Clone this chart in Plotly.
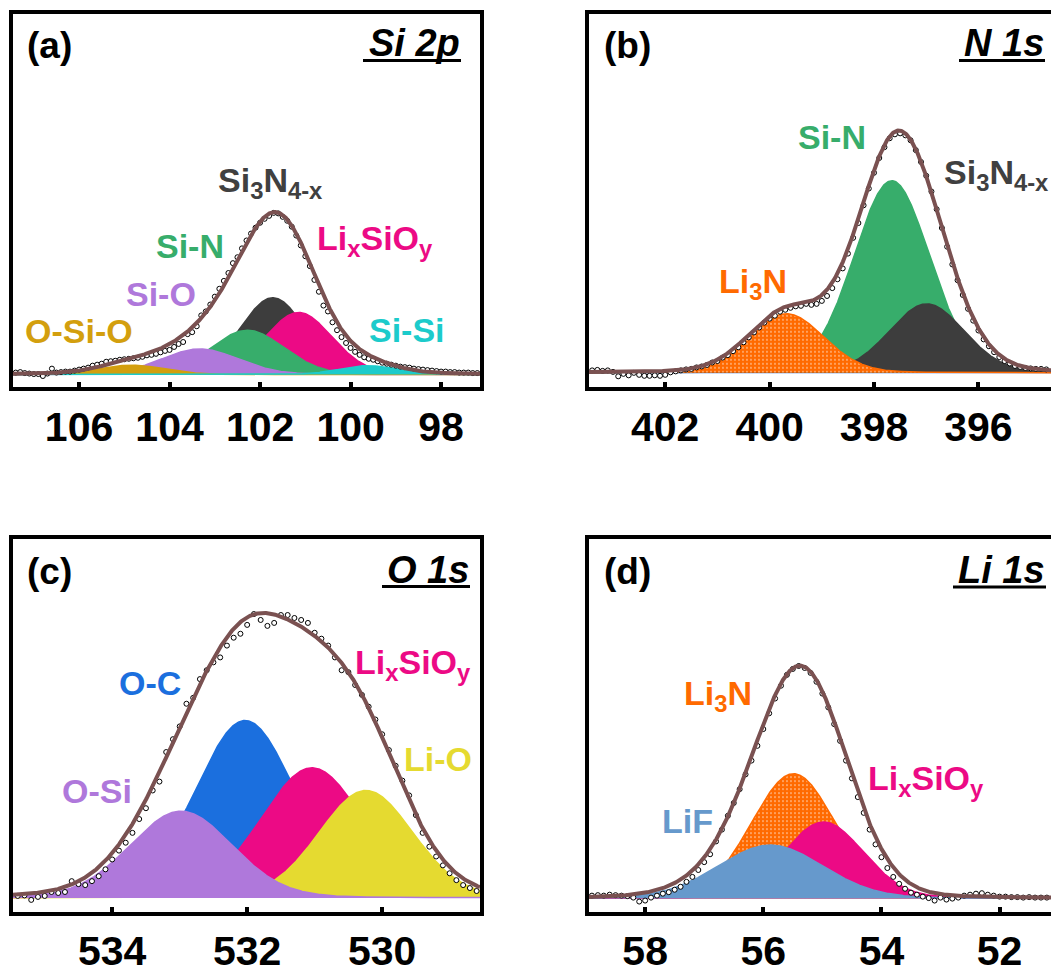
import numpy as np
import plotly.graph_objects as go

W, H = 1051, 974
FONT = "Liberation Sans, Arial, Helvetica, sans-serif"

# ---------------------------------------------------------------- colours
C_ENV = "#7A5151"
C_SI3N4 = "#3D3D3D"
C_LISIO = "#EC0A85"
C_SIN = "#37AD6B"
C_SIO = "#AF78DB"
C_OSIO = "#D39F0E"
C_SISI = "#1CCBCB"
C_LI3N = "#FF6A00"
C_OC = "#1B6FDE"
C_LIO = "#E5DA30"
C_LIF = "#6699CC"
C_BG = "#3B73D9"

# ================================================================ Si 2p
SI2P_SCAN = (107.4, 97.2)
SI2P_COUNTS = [
    2, 2.5, 1.5, 1, 0.5, 0.5, -1.5, 1, 6, 2,
    2.5, 3, 3, 4, 5, 6, 7, 9, 10, 11,
    13, 13.5, 14, 15, 15.5, 16, 16.5, 17, 18, 19.5,
    20, 21, 22.5, 24, 25, 28, 31, 33, 41, 43,
    49, 60, 64, 71, 79, 87, 95, 103, 113, 119,
    128, 136, 143, 149, 154, 158, 161, 164, 163.5, 160,
    156, 150, 141, 131, 120, 110, 96, 84, 70, 64,
    53, 45, 38, 32, 27, 23, 20, 17.5, 16, 15,
    13.5, 12, 11, 10, 9, 8, 7.5, 7, 6, 5.5,
    5, 4.5, 4, 3.5, 3, 3, 2.5, 2.5, 2, 2,
    2, 1.5, 1.5,
]
SI2P_NAMES = ["Si3N4-x", "LixSiOy", "Si-N", "Si-O", "O-Si-O", "Si-Si"]
SI2P_CENTER = [101.72, 101.15, 102.28, 103.33, 104.85, 99.60]
SI2P_HEIGHT = [78, 63, 45, 26, 9.5, 9]
SI2P_FWHM = [1.70, 1.75, 1.90, 2.00, 1.70, 1.50]
SI2P_BACKGROUND = [1.0, 1.0]

# ================================================================ N 1s
N1S_SCAN = (403.4, 394.7)
N1S_COUNTS = [
    2.5, 3, 2, 2.5, 1, -3.5, -1, -2.5, 0, -2,
    -3, -3, -2.5, -3, -2, 0.5, 1.5, 2.5, 3.5, 4,
    5.5, 6.5, 8, 10.5, 12, 15.5, 18, 22, 26, 31,
    36, 41, 46, 51, 55, 58, 62, 64, 66, 67.5,
    68, 70, 69, 70, 73, 78, 86, 95, 106, 121,
    137, 152, 170, 187, 203, 218, 229, 238, 242, 243,
    241, 236, 226, 214, 200, 184, 166, 147, 128, 110,
    94, 79, 65, 53, 43, 34, 27, 21, 16, 12,
    9.5, 7, 6, 5, 4.5, 4, 4, 3.5,
]
N1S_NAMES = ["Si-N", "Si3N4-x", "Li3N"]
N1S_CENTER = [397.66, 396.99, 399.68]
N1S_HEIGHT = [195, 70, 60]
N1S_FWHM = [1.72, 1.70, 1.70]
N1S_BACKGROUND = [1.0, 1.0]

# ================================================================ O 1s
O1S_SCAN = (535.4, 528.6)
O1S_COUNTS = [
    2, 2.5, -2, 1, 2, 6, 5, 6, 17, 14,
    13, 17, 22, 29, 39, 48, 56, 66, 80, 91,
    109, 118, 148, 161, 174, 197, 203, 222, 231, 239,
    244, 256, 264, 268, 277, 288, 282, 276, 279, 287,
    287, 284, 282, 279, 269, 263, 256, 244, 231, 229,
    216, 206, 194, 181, 166, 150, 134, 119, 104, 84,
    66, 52, 42, 33, 25, 18, 13, 10, 7,
]
O1S_NAMES = ["O-C", "LixSiOy", "Li-O", "O-Si"]
O1S_CENTER = [532.03, 531.04, 530.24, 532.98]
O1S_HEIGHT = [180, 132, 109, 88]
O1S_FWHM = [1.75, 1.80, 1.65, 1.79]

# ================================================================ Li 1s
LI1S_SCAN = (58.9, 51.2)
LI1S_COUNTS = [
    3, 3.5, 3, 4, 3.5, 3, 2.5, 1, -3, -2,
    1, 3, 5, 6.5, 9, 12, 17, 22, 29, 37,
    45, 58, 70, 84, 97, 111, 126, 140, 155, 172,
    188, 203, 216, 227, 233, 236, 234, 229, 220, 208,
    194, 177, 160, 140, 122, 103, 87, 70, 55, 42,
    31, 22, 15, 10, 6, 4, 2, 0.5, -2, 1,
    -1, 0, 1, 3, 4, 5, 5.5, 4, 3, 2,
    2, 1.5, 1.5, 1, 1.5, 1, 1, 1,
]
LI1S_NAMES = ["Li3N", "LixSiOy", "LiF"]
LI1S_CENTER = [55.49, 54.98, 55.88]
LI1S_HEIGHT = [126.7, 77.7, 54.3]
LI1S_FWHM = [1.68, 1.60, 2.10]

# tick labels (binding energy, eV)
SI2P_TICKS = [106, 104, 102, 100, 98]
N1S_TICKS = [402, 400, 398, 396]
O1S_TICKS = [534, 532, 530]
LI1S_TICKS = [58, 56, 54, 52]


def pseudo_voigt(e, c, h, fwhm, mix=0.1):
    """Gaussian-Lorentzian (GL) line shape used for the peak fits."""
    x = (e - c) / fwhm
    return h * ((1 - mix) * np.exp(-4 * np.log(2) * x ** 2) + mix / (1 + 4 * x ** 2))


# ---------------------------------------------------------------- panel geometry
# x domains / y domains in paper units, axis windows in data units
PANELS = {
    "a": dict(xd=[13 / W, 480 / W], yd=[1 - 393 / H, 1 - 14 / H],
              xr=[107.46, 97.14], yr=[-13, 366], right=True),
    "b": dict(xd=[589 / W, 1.0], yd=[1 - 393 / H, 1 - 14 / H],
              xr=[403.46, 394.61], yr=[-14.7, 364.3], right=False),
    "c": dict(xd=[13 / W, 480 / W], yd=[1 - 925 / H, 1 - 547 / H],
              xr=[535.47, 528.55], yr=[-14, 364], right=True),
    "d": dict(xd=[589 / W, 1.0], yd=[1 - 925 / H, 1 - 547 / H],
              xr=[58.95, 51.13], yr=[-13.3, 364.7], right=False),
}
AXIS_ID = {"a": "", "b": "2", "c": "3", "d": "4"}

SPECTRA = {
    "a": dict(scan=SI2P_SCAN, counts=SI2P_COUNTS, names=SI2P_NAMES, center=SI2P_CENTER,
              height=SI2P_HEIGHT, fwhm=SI2P_FWHM, ticks=SI2P_TICKS, bg=SI2P_BACKGROUND,
              # drawing order: back to front
              order=["Si3N4-x", "LixSiOy", "Si-N", "Si-O", "O-Si-O", "Si-Si"],
              colors={"Si3N4-x": C_SI3N4, "LixSiOy": C_LISIO, "Si-N": C_SIN,
                      "Si-O": C_SIO, "O-Si-O": C_OSIO, "Si-Si": C_SISI}),
    "b": dict(scan=N1S_SCAN, counts=N1S_COUNTS, names=N1S_NAMES, center=N1S_CENTER,
              height=N1S_HEIGHT, fwhm=N1S_FWHM, ticks=N1S_TICKS, bg=N1S_BACKGROUND,
              order=["Si-N", "Si3N4-x", "Li3N"],
              colors={"Si-N": C_SIN, "Si3N4-x": C_SI3N4, "Li3N": C_LI3N}),
    "c": dict(scan=O1S_SCAN, counts=O1S_COUNTS, names=O1S_NAMES, center=O1S_CENTER,
              height=O1S_HEIGHT, fwhm=O1S_FWHM, ticks=O1S_TICKS, bg=None,
              order=["O-C", "LixSiOy", "Li-O", "O-Si"],
              colors={"O-C": C_OC, "LixSiOy": C_LISIO, "Li-O": C_LIO, "O-Si": C_SIO}),
    "d": dict(scan=LI1S_SCAN, counts=LI1S_COUNTS, names=LI1S_NAMES, center=LI1S_CENTER,
              height=LI1S_HEIGHT, fwhm=LI1S_FWHM, ticks=LI1S_TICKS, bg=None,
              order=["Li3N", "LixSiOy", "LiF"],
              colors={"Li3N": C_LI3N, "LixSiOy": C_LISIO, "LiF": C_LIF}),
}

fig = go.Figure()

for key, sp in SPECTRA.items():
    ax = AXIS_ID[key]
    xa, ya = "x" + ax, "y" + ax
    lo, hi = PANELS[key]["xr"]
    e_fine = np.linspace(lo, hi, 900)
    e_scan = np.linspace(sp["scan"][0], sp["scan"][1], len(sp["counts"]))

    if sp["bg"] is not None:
        fig.add_trace(go.Scatter(x=[lo, hi], y=sp["bg"], mode="lines",
                                 line=dict(color=C_BG, width=2.5),
                                 xaxis=xa, yaxis=ya, hoverinfo="skip"))

    comps = {}
    for n, c, h, f in zip(sp["names"], sp["center"], sp["height"], sp["fwhm"]):
        comps[n] = pseudo_voigt(e_fine, c, h, f)

    for n in sp["order"]:
        col = sp["colors"][n]
        kw = dict(fill="tozeroy", fillcolor=col)
        if n == "Li3N":
            kw["fillpattern"] = dict(shape=".", bgcolor=col, fgcolor="white",
                                     size=4, solidity=0.18)
        fig.add_trace(go.Scatter(x=e_fine, y=comps[n], mode="lines",
                                 line=dict(color=col, width=1.5),
                                 xaxis=xa, yaxis=ya, name=n, **kw))

    fig.add_trace(go.Scatter(x=e_scan, y=sp["counts"], mode="markers",
                             marker=dict(symbol="circle", size=5, color="white",
                                         line=dict(color="black", width=1)),
                             xaxis=xa, yaxis=ya, name="data"))

    envelope = sum(comps.values())
    fig.add_trace(go.Scatter(x=e_fine, y=envelope, mode="lines",
                             line=dict(color=C_ENV, width=4),
                             xaxis=xa, yaxis=ya, name="envelope"))

    p = PANELS[key]
    fig.update_layout(**{
        "xaxis" + ax: dict(domain=p["xd"], range=p["xr"], anchor=ya,
                           tickvals=sp["ticks"], ticks="inside", ticklen=5, tickwidth=3.5,
                           tickcolor="black", showline=True, linewidth=4,
                           linecolor="black", mirror=True, showgrid=False,
                           zeroline=False,
                           tickfont=dict(family=FONT, size=41, color="black",
                                         weight="bold")),
        "yaxis" + ax: dict(domain=p["yd"], range=p["yr"], anchor=xa,
                           showticklabels=False, ticks="", showline=True,
                           linewidth=4, linecolor="black", mirror=p["right"],
                           showgrid=False, zeroline=False),
    })

# ---------------------------------------------------------------- peak labels
LABELS = [
    # panel, text, x (eV), y (intensity), colour
    ("a", "Si<sub>3</sub>N<sub>4-x</sub>", 101.78, 195, "#404040"),
    ("a", "Li<sub>x</sub>SiO<sub>y</sub>", 99.46, 136, C_LISIO),
    ("a", "Si-N", 103.55, 130, C_SIN),
    ("a", "Si-O", 104.20, 81.5, C_SIO),
    ("a", "O-Si-O", 106.00, 44.5, C_OSIO),
    ("a", "Si-Si", 98.76, 45.5, C_SISI),
    ("b", "Si-N", 398.81, 238.8, C_SIN),
    ("b", "Si<sub>3</sub>N<sub>4-x</sub>", 395.65, 201, "#404040"),
    ("b", "Li<sub>3</sub>N", 400.32, 91, C_LI3N),
    ("c", "O-C", 533.44, 218.5, C_OC),
    ("c", "Li<sub>x</sub>SiO<sub>y</sub>", 529.54, 237, C_LISIO),
    ("c", "Li-O", 529.17, 140.5, C_LIO),
    ("c", "O-Si", 534.23, 108.5, C_SIO),
    ("d", "Li<sub>3</sub>N", 56.77, 206, C_LI3N),
    ("d", "Li<sub>x</sub>SiO<sub>y</sub>", 53.25, 120, C_LISIO),
    ("d", "LiF", 57.29, 79.2, C_LIF),
]
annotations = []
for key, txt, x, y, col in LABELS:
    ax = AXIS_ID[key]
    annotations.append(dict(text=txt, x=x, y=y, xref="x" + ax, yref="y" + ax,
                            showarrow=False, xanchor="center", yanchor="middle",
                            font=dict(family=FONT, size=34, color=col, weight="bold")))

# panel letters and core-level titles (pixel positions -> paper units)
PANEL_TAGS = [("(a)", 25, 46), ("(b)", 602, 46), ("(c)", 25, 580), ("(d)", 602, 580)]
for txt, px, py in PANEL_TAGS:
    annotations.append(dict(text=txt, x=px / W, y=1 - py / H, xref="paper", yref="paper",
                            showarrow=False, xanchor="left", yanchor="middle",
                            font=dict(family=FONT, size=37, color="black", weight="bold")))

TITLES = [("Si 2p", 462, 44, 363, 61.5), ("N 1s", 1046, 44, 959, 61.5),
          ("O 1s", 471, 578, 382, 595), ("Li 1s", 1047, 578, 953, 595.5)]
shapes = []
for txt, px, py, ux0, uy in TITLES:
    annotations.append(dict(text=txt, x=px / W, y=1 - py / H, xref="paper", yref="paper",
                            showarrow=False, xanchor="right", yanchor="middle",
                            font=dict(family=FONT, size=38, color="black", weight="bold",
                                      style="italic")))
    shapes.append(dict(type="line", xref="paper", yref="paper",
                       x0=ux0 / W, x1=(px - 1) / W, y0=1 - uy / H, y1=1 - uy / H,
                       line=dict(color="black", width=3)))

fig.update_layout(width=W, height=H, margin=dict(l=0, r=0, t=0, b=0),
                  paper_bgcolor="white", plot_bgcolor="white", showlegend=False,
                  annotations=annotations, shapes=shapes)

fig.write_html("out.html")
